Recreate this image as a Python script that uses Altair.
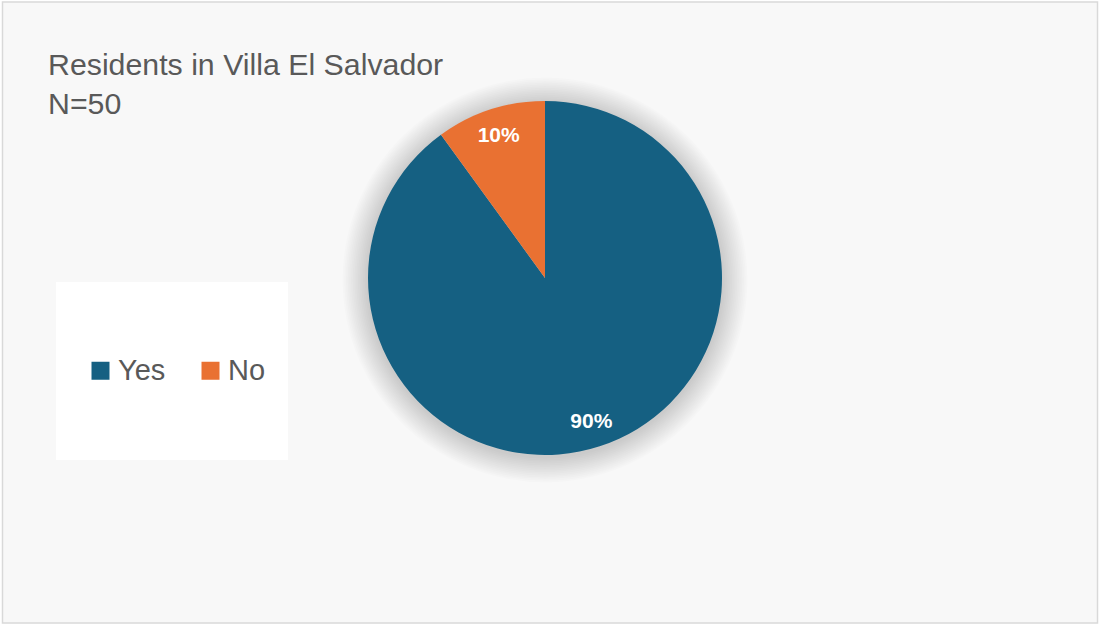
import altair as alt
import pandas as pd

categories = ["Yes", "No"]
counts = [45, 5]
percent_labels = ["90%", "10%"]
colors = ["#156082", "#E97132"]
title_lines = ["Residents in Villa El Salvador", "N=50"]

df = pd.DataFrame({"answer": categories, "count": counts, "label": percent_labels,
                   "order": list(range(len(categories)))})

W, H = 1100, 625
CX, CY, R = 545, 278, 177

base = alt.Chart(df)

# soft shadow around the pie
shadow_layers = []
for i in range(1, 16):
    shadow_layers.append(
        alt.Chart(pd.DataFrame({"k": [i]})).mark_arc(
            theta=0, theta2=6.2832, outerRadius=R + 1.7 * i, innerRadius=0,
            color="#000000", opacity=0.012
        ).encode(x=alt.value(CX), y=alt.value(CY + 2))
    )

border = alt.Chart(pd.DataFrame({"k": [0]})).mark_rect(
    fill="#f8f8f8", stroke="#d9d9d9", strokeWidth=1.5
).encode(x=alt.value(2.5), x2=alt.value(1097.5), y=alt.value(2), y2=alt.value(623))

legend_box = alt.Chart(pd.DataFrame({"k": [0]})).mark_rect(
    fill="#ffffff"
).encode(x=alt.value(56), x2=alt.value(288), y=alt.value(282), y2=alt.value(460))

pie = base.mark_arc(outerRadius=R, stroke=None).encode(
    theta=alt.Theta("count:Q", stack=True),
    order=alt.Order("order:Q"),
    color=alt.Color(
        "answer:N",
        scale=alt.Scale(domain=categories, range=colors),
        sort=categories,
        legend=alt.Legend(
            title=None, orient="none", legendX=86, legendY=356,
            direction="horizontal", symbolType="square", symbolSize=324,
            symbolStrokeWidth=0, labelFontSize=29, labelFont="Liberation Sans",
            labelColor="#595959", labelOffset=3, columnPadding=30,
            symbolOpacity=1,
        ),
    ),
    x=alt.value(CX), y=alt.value(CY),
)

labels = base.mark_text(
    radius=150, font="Liberation Sans", fontSize=21, fontWeight="bold",
    color="#ffffff", baseline="middle", align="center"
).encode(
    theta=alt.Theta("count:Q", stack=True),
    order=alt.Order("order:Q"),
    text="label:N",
    x=alt.value(CX), y=alt.value(CY + 1),
)

title_df = pd.DataFrame({"t": title_lines, "line": list(range(len(title_lines)))})
title1 = alt.Chart(title_df.iloc[[0]]).mark_text(
    font="Liberation Sans", fontSize=30.3, color="#595959", align="left", baseline="alphabetic"
).encode(text="t:N", x=alt.value(48), y=alt.value(75))
title2 = alt.Chart(title_df.iloc[[1]]).mark_text(
    font="Liberation Sans", fontSize=30.3, color="#595959", align="left", baseline="alphabetic"
).encode(text="t:N", x=alt.value(48), y=alt.value(114))

chart = alt.layer(border, legend_box, *shadow_layers, pie, labels, title1, title2).properties(
    width=W, height=H, background="#ffffff", padding=0,
    autosize=alt.AutoSizeParams(type="none"),
).configure_view(stroke=None)

chart.save("out.html", embed_options={"renderer": "svg", "actions": False})
